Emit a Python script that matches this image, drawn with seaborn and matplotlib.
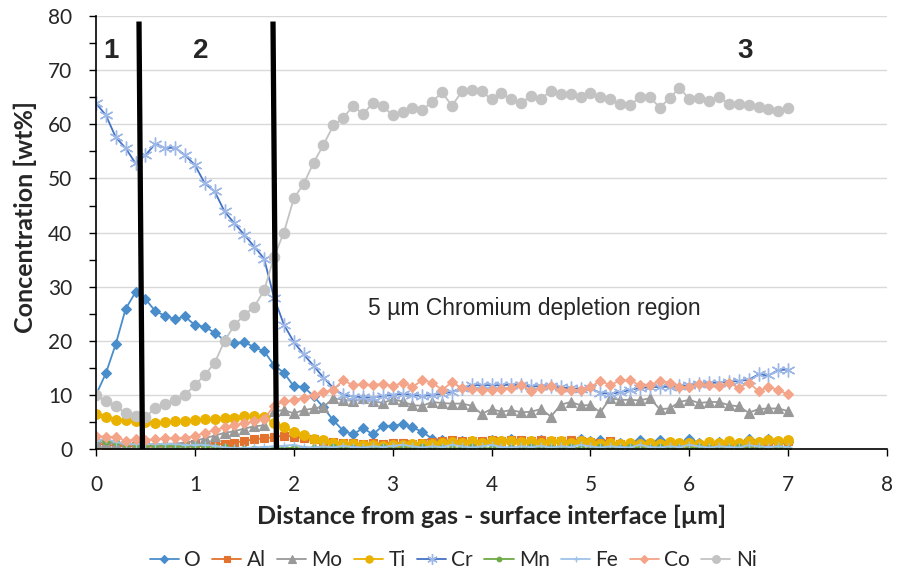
import numpy as np
import pandas as pd
import matplotlib
matplotlib.use("Agg")
import matplotlib.pyplot as plt
from matplotlib.ticker import MultipleLocator
import seaborn as sns

distance = [0.0, 0.1, 0.2, 0.3, 0.4, 0.5, 0.6, 0.7, 0.8, 0.9,
            1.0, 1.1, 1.2, 1.3, 1.4, 1.5, 1.6, 1.7, 1.8, 1.9,
            2.0, 2.1, 2.2, 2.3, 2.4, 2.5, 2.6, 2.7, 2.8, 2.9,
            3.0, 3.1, 3.2, 3.3, 3.4, 3.5, 3.6, 3.7, 3.8, 3.9,
            4.0, 4.1, 4.2, 4.3, 4.4, 4.5, 4.6, 4.7, 4.8, 4.9,
            5.0, 5.1, 5.2, 5.3, 5.4, 5.5, 5.6, 5.7, 5.8, 5.9,
            6.0, 6.1, 6.2, 6.3, 6.4, 6.5, 6.6, 6.7, 6.8, 6.9, 7.0]

O = [10.0, 14.0, 19.4, 25.9, 29.0, 27.7, 25.5, 24.6, 24.0, 24.5,
     22.9, 22.6, 21.5, 20.1, 19.6, 19.8, 18.8, 18.1, 15.5, 14.1,
     11.6, 11.5, 9.8, 7.7, 5.3, 3.4, 2.7, 3.9, 2.7, 4.3,
     4.3, 4.6, 4.0, 3.2, 1.9, 1.6, 1.5, 1.4, 1.5, 1.3,
     1.6, 1.4, 1.9, 1.5, 1.4, 1.6, 1.3, 1.5, 1.3, 1.8,
     1.5, 1.7, 1.2, 1.1, 1.0, 1.6, 1.2, 1.6, 1.2, 1.1,
     1.8, 1.2, 1.0, 1.3, 1.1, 1.2, 1.8, 1.3, 1.8, 1.2, 1.3]

Al = [1.0, 0.8, 0.6, 0.5, 0.5, 0.5, 0.4, 0.4, 0.4, 0.5,
      0.9, 0.8, 0.9, 1.0, 1.2, 1.5, 1.8, 2.0, 2.2, 2.5,
      2.3, 2.0, 1.8, 1.5, 1.3, 1.2, 1.1, 1.0, 1.1, 1.0,
      1.2, 1.1, 1.0, 1.2, 1.3, 1.5, 1.6, 1.5, 1.4, 1.5,
      1.6, 1.5, 1.6, 1.7, 1.5, 1.6, 1.5, 1.4, 1.6, 1.4,
      1.3, 1.2, 1.4, 0.9, 0.8, 0.7, 0.9, 0.7, 0.8, 0.7,
      0.9, 0.7, 0.8, 0.7, 0.9, 0.8, 1.0, 0.9, 1.1, 1.2, 1.4]

Mo = [1.3, 1.2, 1.0, 0.9, 0.8, 0.8, 0.9, 1.0, 1.0, 1.2,
      1.5, 2.0, 2.5, 3.0, 3.3, 3.8, 4.2, 4.4, 7.0, 7.2,
      6.6, 7.2, 7.5, 7.8, 9.4, 9.1, 8.9, 9.4, 8.9, 8.5,
      9.2, 8.8, 8.1, 8.0, 8.7, 8.5, 8.4, 8.4, 8.0, 6.5,
      7.4, 6.9, 7.2, 6.8, 6.9, 7.4, 6.0, 8.2, 8.7, 8.1,
      8.1, 6.8, 9.4, 9.1, 9.1, 9.0, 9.4, 7.4, 7.5, 8.7,
      9.1, 8.5, 8.7, 8.7, 8.1, 7.9, 6.7, 7.4, 7.5, 7.5, 7.0]

Ti = [6.5, 6.0, 5.4, 5.4, 5.1, 5.0, 4.9, 5.0, 5.1, 5.2,
      5.4, 5.5, 5.6, 5.8, 5.8, 6.2, 6.1, 5.9, 4.8, 4.1,
      3.2, 2.6, 1.9, 1.6, 1.2, 1.0, 0.9, 0.8, 0.8, 0.6,
      0.8, 0.7, 0.9, 1.0, 1.0, 1.2, 1.3, 1.2, 1.4, 1.2,
      1.5, 1.4, 1.5, 1.3, 1.4, 1.2, 1.5, 1.4, 1.2, 1.5,
      1.3, 1.0, 1.1, 0.9, 1.2, 0.9, 1.2, 1.0, 1.3, 1.1,
      1.2, 1.0, 1.3, 1.2, 1.4, 1.1, 1.5, 1.3, 1.6, 1.5, 1.7]

Cr = [63.9, 61.7, 57.6, 55.6, 52.8, 54.3, 56.4, 55.6, 55.7, 54.3,
      52.5, 49.1, 47.6, 43.9, 41.7, 39.6, 37.4, 35.2, 28.0, 23.0,
      19.8, 17.5, 15.4, 13.2, 11.3, 10.0, 9.7, 9.6, 9.5, 9.8,
      10.0, 10.2, 10.0, 9.8, 10.0, 10.2, 10.6, 11.3, 11.8, 11.8,
      11.8, 11.8, 11.9, 11.8, 11.6, 11.6, 11.6, 11.4, 11.2, 11.1,
      11.2, 10.4, 10.2, 10.5, 10.9, 11.3, 11.4, 11.5, 11.5, 11.6,
      11.8, 12.1, 12.2, 12.3, 12.4, 12.6, 12.8, 13.8, 13.6, 14.6, 14.7]

Mn = [1.8, 1.5, 1.3, 1.0, 0.9, 0.8, 0.7, 0.7, 0.6, 0.6,
      0.6, 0.5, 0.4, 0.3, 0.1, 0.1, 0.1, 0.1, 0.1, 0.2,
      0.2, 0.1, 0.2, 0.1, 0.3, 0.1, 0.2, 0.1, 0.1, 0.3,
      0.1, 0.2, 0.1, 0.3, 0.1, 0.2, 0.1, 0.2, 0.3, 0.1,
      0.2, 0.1, 0.2, 0.1, 0.3, 0.1, 0.2, 0.1, 0.3, 0.2,
      0.1, 0.3, 0.1, 0.2, 0.4, 0.1, 0.2, 0.3, 0.1, 0.2,
      0.1, 0.3, 0.2, 0.1, 0.2, 0.3, 0.1, 0.2, 0.1, 0.2, 0.1]

Fe = [1.5, 1.9, 1.3, 1.0, 0.9, 1.0, 0.9, 1.0, 0.9, 0.8,
      0.8, 0.8, 0.6, 0.3, 0.2, 0.2, 0.3, 0.4, 0.5, 0.6,
      0.8, 0.4, 0.3, 0.5, 0.3, 0.6, 0.4, 0.3, 0.5, 0.4,
      0.6, 0.8, 0.5, 0.3, 0.5, 0.4, 0.8, 0.5, 0.3, 0.5,
      0.8, 0.4, 0.3, 0.5, 0.4, 0.6, 0.3, 0.5, 0.4, 0.8,
      0.5, 0.3, 0.5, 0.4, 0.3, 0.8, 0.4, 0.3, 0.5, 0.4,
      0.8, 0.5, 0.3, 0.5, 0.4, 0.3, 0.7, 0.5, 0.4, 0.5, 0.4]

Co = [2.5, 2.2, 2.3, 1.5, 1.8, 1.7, 1.8, 2.0, 2.0, 2.1,
      2.4, 3.0, 3.5, 4.0, 4.4, 4.8, 5.1, 5.5, 8.0, 8.8,
      9.0, 9.5, 10.0, 10.5, 11.0, 12.7, 11.8, 12.0, 11.8, 12.1,
      11.6, 12.3, 11.5, 12.7, 12.3, 10.9, 12.4, 11.2, 11.1, 10.9,
      11.0, 11.1, 11.2, 11.8, 10.8, 11.2, 11.6, 11.0, 11.0, 10.9,
      11.5, 12.6, 11.8, 12.7, 12.7, 11.8, 11.8, 12.6, 12.3, 11.5,
      11.5, 12.1, 11.9, 11.7, 12.3, 11.3, 12.3, 10.7, 11.5, 10.9, 10.1]

Ni = [10.0, 8.9, 7.9, 6.6, 6.2, 6.0, 7.5, 8.3, 9.0, 10.0,
      11.8, 13.7, 15.9, 20.0, 22.9, 24.8, 26.3, 29.3, 35.5, 40.0,
      46.3, 49.0, 52.9, 56.2, 59.8, 61.2, 63.4, 61.9, 63.9, 63.3,
      61.7, 62.2, 63.1, 62.7, 64.2, 65.9, 63.4, 66.1, 66.4, 66.1,
      64.6, 65.7, 64.6, 63.9, 65.3, 64.7, 66.2, 65.6, 65.6, 65.0,
      65.7, 65.1, 64.6, 63.8, 63.5, 65.0, 65.1, 63.1, 64.8, 66.8,
      64.6, 64.8, 64.4, 65.1, 63.8, 63.8, 63.6, 63.2, 62.8, 62.5, 63.0]

elements = ["O", "Al", "Mo", "Ti", "Cr", "Mn", "Fe", "Co", "Ni"]
series = {"O": O, "Al": Al, "Mo": Mo, "Ti": Ti, "Cr": Cr,
          "Mn": Mn, "Fe": Fe, "Co": Co, "Ni": Ni}

x_ticks = [0, 1, 2, 3, 4, 5, 6, 7, 8]
y_ticks = [0, 10, 20, 30, 40, 50, 60, 70, 80]
region_labels = ["1", "2", "3"]
region_label_x = [0.15, 1.06, 6.56]
boundary_lines_x = [(0.435, 0.47), (1.79, 1.825)]
annotation = "5 \u00b5m Chromium depletion region"

styles = {
    "O":  dict(color="#4A8DCB", marker="D", ms=5.5, mfc="#4A8DCB", mec="#4A8DCB", lw=1.3),
    "Al": dict(color="#E2722D", marker="s", ms=5.5, mfc="#E2722D", mec="#E2722D", lw=1.3),
    "Mo": dict(color="#999999", marker="^", ms=7, mfc="#999999", mec="#999999", lw=1.3),
    "Ti": dict(color="#EAB200", marker="o", ms=7, mfc="#EAB200", mec="#EAB200", lw=1.3),
    "Cr": dict(color="#4472C4", marker=(6, 2, 0), ms=10, mfc="none", mec="#9DB7E6", mew=1.0, lw=1.3),
    "Mn": dict(color="#6DAA45", marker="o", ms=4.5, mfc="#6DAA45", mec="#6DAA45", lw=1.3),
    "Fe": dict(color="#9EC3E8", marker="+", ms=6, mfc="#9EC3E8", mec="#9EC3E8", mew=1.0, lw=1.3),
    "Co": dict(color="#F4A488", marker="D", ms=5.5, mfc="#F4A488", mec="#F4A488", lw=1.3),
    "Ni": dict(color="#C3C3C3", marker="o", ms=7.5, mfc="#C3C3C3", mec="#C3C3C3", lw=1.3),
}

sns.set_theme(style="white")
plt.rcParams["font.family"] = ["Lato", "DejaVu Sans"]

fig = plt.figure(figsize=(8.97, 5.75), dpi=100)
ax = fig.add_axes([0.107, 0.219, 0.882, 0.753])

for el in elements:
    st = styles[el]
    sns.lineplot(x=distance, y=series[el], ax=ax, label=el, sort=False,
                 color=st["color"], linewidth=st["lw"], marker=st["marker"],
                 markersize=st["ms"], markerfacecolor=st["mfc"],
                 markeredgecolor=st["mec"], markeredgewidth=st.get("mew", 0.8),
                 legend=False)

ax.set_xlim(0, 8)
ax.set_ylim(0, 80)
ax.set_xticks(x_ticks)
ax.set_yticks(y_ticks)
ax.yaxis.set_minor_locator(MultipleLocator(5))
ax.grid(axis="y", which="major", color="#D9D9D9", linewidth=1.0)
ax.grid(axis="x", visible=False)
ax.set_axisbelow(True)
for s in ["top", "right"]:
    ax.spines[s].set_visible(False)
for s in ["left", "bottom"]:
    ax.spines[s].set_color("black")
    ax.spines[s].set_linewidth(1.2)
ax.tick_params(axis="y", which="both", direction="out", length=5, width=1.0,
               color="black", left=True, labelsize=15, pad=12)
ax.tick_params(axis="x", which="major", direction="out", length=5, width=1.0,
               color="black", bottom=True, labelsize=15, pad=14)

ax.set_xlabel("Distance from gas - surface interface [\u00b5m]", fontsize=18,
              fontweight="bold")
ax.set_ylabel("Concentration [wt%]", fontsize=18, fontweight="bold")
ax.xaxis.set_label_coords(0.4994, -0.128)
ax.yaxis.set_label_coords(-0.075, 0.535)

for (x0, x1) in boundary_lines_x:
    ax.plot([x0, x1], [79, 0], color="black", linewidth=3.8,
            solid_capstyle="butt", zorder=10, clip_on=False)

for lab, lx in zip(region_labels, region_label_x):
    ax.text(lx, 73.5, lab, fontsize=20, fontweight="bold", ha="center",
            va="center", family=["Liberation Sans", "DejaVu Sans"], zorder=11)

ax.text(4.43, 25.9, annotation, fontsize=16.5, ha="center", va="center",
        family=["Liberation Sans", "DejaVu Sans"], zorder=11)

handles, labels = ax.get_legend_handles_labels()
if not handles:
    handles = ax.get_lines()[:len(elements)]
    labels = elements
fig.legend(handles[:len(elements)], labels[:len(elements)], loc="center",
           bbox_to_anchor=(0.505, 0.026), ncol=9, frameon=False, fontsize=15,
           handlelength=1.4, handletextpad=0.25, columnspacing=0.55,
           markerscale=0.75)

fig.savefig("out.png", dpi=100)
